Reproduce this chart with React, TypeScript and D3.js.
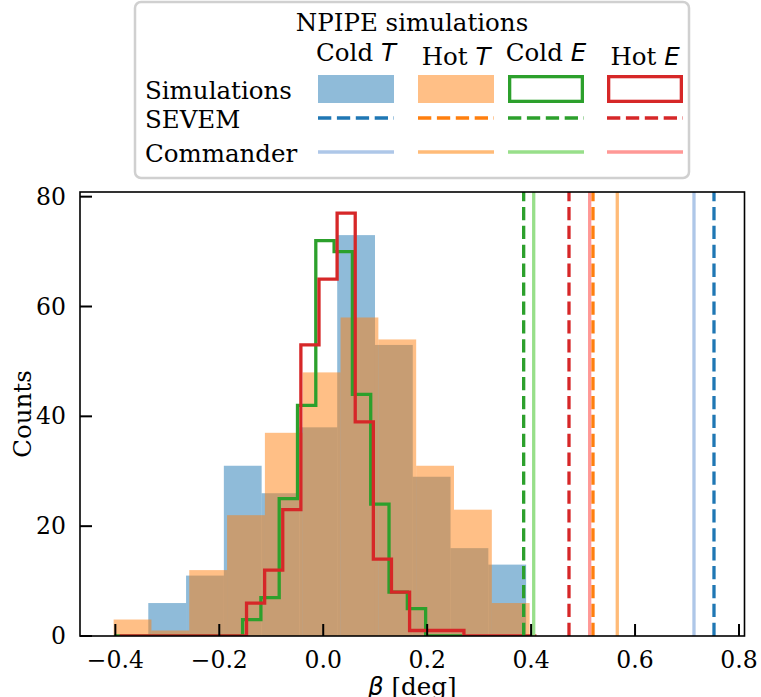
import React from "react";
import * as d3 from "d3";

// ---- data ----
const coldTStart = -0.3366;
const coldTWidth = 0.0727;
const coldTCounts = [6, 11, 31, 26, 38, 73, 53, 29, 16, 13];

const hotTStart = -0.4033;
const hotTWidth = 0.07277;
const hotTCounts = [3, 1, 12, 22, 37, 48, 58, 54, 31, 23, 6];

const coldEStart = -0.4017;
const coldEWidth = 0.03522;
const coldECounts = [0, 0, 0, 0, 0, 0, 0, 3, 7, 25, 42, 72, 70, 44, 24, 8, 5, 0, 0];

const hotEStart = -0.3916;
const hotEWidth = 0.03486;
const hotECounts = [0, 0, 0, 0, 0, 0, 0, 6, 12, 23, 53, 65, 77, 39, 14, 8, 1, 1, 1, 0, 0, 0, 0];

const columnWords = ["Cold", "Hot", "Cold", "Hot"];
const columnSymbols = ["T", "T", "E", "E"];
const rowLabels = ["Simulations", "SEVEM", "Commander"];
const sevemBeta = [0.7519, 0.5191, 0.3857, 0.4729];
const commanderBeta = [0.7134, 0.5658, 0.405, 0.5127];

const xTicks = [-0.4, -0.2, 0.0, 0.2, 0.4, 0.6, 0.8];
const yTicks = [0, 20, 40, 60, 80];

// ---- styles ----
const dark = ["#1f77b4", "#ff7f0e", "#2ca02c", "#d62728"];
const light = ["#aec7e8", "#ffbb78", "#98df8a", "#ff9896"];
const SERIF = "'DejaVu Serif', serif";
const MATH = "'DejaVu Sans', sans-serif";
const FS = 24.5;
const TFS = 23.5;

const W = 761;
const H = 697;
const M = { left: 80, right: 744.5, top: 192, bottom: 636 };
const LW = 3.3;
const DASH = "13.3 5.6";

function edges(start: number, width: number, n: number) {
  return d3.range(n + 1).map((i) => start + i * width);
}

export default function App() {
  const x = d3.scaleLinear().domain([-0.468, 0.8106]).range([M.left, M.right]);
  const y = d3.scaleLinear().domain([0, 80.85]).range([M.bottom, M.top]);
  const fmt = (v: number) => d3.format(".1f")(v).replace("-", "\u2212");

  const bars = (start: number, width: number, counts: number[], color: string, key: string) => {
    const e = edges(start, width, counts.length);
    return counts.map((c, i) => (
      <rect
        key={key + i}
        x={x(e[i])}
        y={y(c)}
        width={x(e[i + 1]) - x(e[i])}
        height={y(0) - y(c)}
        fill={color}
        fillOpacity={0.5}
      />
    ));
  };

  const stepPath = (start: number, width: number, counts: number[]) => {
    const e = edges(start, width, counts.length);
    const pts: [number, number][] = [[e[0], 0]];
    counts.forEach((c, i) => {
      pts.push([e[i], c]);
      pts.push([e[i + 1], c]);
    });
    pts.push([e[e.length - 1], 0]);
    return d3
      .line<[number, number]>()
      .x((d) => x(d[0]))
      .y((d) => y(d[1]))(pts) as string;
  };

  // legend geometry
  const colX = [318, 418, 508, 607];
  const handleW = 76;
  const rowY = [89, 118, 152];

  return (
    <svg
      width={W}
      height={H}
      style={{ position: "absolute", left: 0, top: 0, background: "#fff" }}
    >
      <defs>
        <clipPath id="plotclip">
          <rect x={M.left} y={M.top} width={M.right - M.left} height={M.bottom - M.top} />
        </clipPath>
      </defs>
      <rect x={0} y={0} width={W} height={H} fill="#fff" />

      <g clipPath="url(#plotclip)">
        {bars(coldTStart, coldTWidth, coldTCounts, dark[0], "ct")}
        {bars(hotTStart, hotTWidth, hotTCounts, dark[1], "ht")}
        <path d={stepPath(coldEStart, coldEWidth, coldECounts)} fill="none" stroke={dark[2]} strokeWidth={LW} strokeLinejoin="miter" />
        <path d={stepPath(hotEStart, hotEWidth, hotECounts)} fill="none" stroke={dark[3]} strokeWidth={LW} strokeLinejoin="miter" />
        {commanderBeta.map((b, i) => (
          <line key={"c" + i} x1={x(b)} x2={x(b)} y1={M.bottom} y2={M.top} stroke={light[i]} strokeWidth={LW} />
        ))}
        {sevemBeta.map((b, i) => (
          <line key={"s" + i} x1={x(b)} x2={x(b)} y1={M.bottom} y2={M.top} stroke={dark[i]} strokeWidth={LW} strokeDasharray={DASH} />
        ))}
      </g>

      {/* spines */}
      <rect x={M.left} y={M.top} width={M.right - M.left} height={M.bottom - M.top} fill="none" stroke="#000" strokeWidth={1.6} />

      {/* x ticks */}
      {xTicks.map((t) => (
        <g key={"xt" + t}>
          <line x1={x(t)} x2={x(t)} y1={M.bottom} y2={M.bottom - 12} stroke="#000" strokeWidth={2} />
          <text x={x(t)} y={M.bottom + 24} textAnchor="middle" dominantBaseline="central" fontFamily={SERIF} fontSize={TFS}>
            {fmt(t)}
          </text>
        </g>
      ))}
      {/* y ticks */}
      {yTicks.map((t) => (
        <g key={"yt" + t}>
          <line x1={M.left} x2={M.left + 12} y1={y(t)} y2={y(t)} stroke="#000" strokeWidth={2} />
          <text x={M.left - 14} y={y(t)} textAnchor="end" dominantBaseline="central" fontFamily={SERIF} fontSize={TFS}>
            {t}
          </text>
        </g>
      ))}

      {/* axis labels */}
      <text transform={`translate(22,${(M.top + M.bottom) / 2}) rotate(-90)`} textAnchor="middle" dominantBaseline="central" fontFamily={SERIF} fontSize={FS}>
        Counts
      </text>
      <text x={(M.left + M.right) / 2} y={686} textAnchor="middle" dominantBaseline="central" fontFamily={SERIF} fontSize={FS}>
        <tspan fontFamily={MATH} fontStyle="italic">β</tspan> [deg]
      </text>

      {/* legend */}
      <rect x={135} y={2} width={554} height={176} rx={6} fill="#fff" fillOpacity={0.8} stroke="#d0d0d0" strokeWidth={2.5} />
      <text x={412} y={22} textAnchor="middle" dominantBaseline="central" fontFamily={SERIF} fontSize={FS}>
        NPIPE simulations
      </text>
      {columnWords.map((w, i) => (
        <text key={"h" + i} x={colX[i] + handleW / 2} y={i % 2 === 0 ? 52 : 56} textAnchor="middle" dominantBaseline="central" fontFamily={SERIF} fontSize={FS}>
          {w + " "}
          <tspan fontFamily={MATH} fontStyle="italic">{columnSymbols[i]}</tspan>
        </text>
      ))}
      {rowLabels.map((r, i) => (
        <text key={"r" + i} x={145} y={rowY[i] + 1} dominantBaseline="central" fontFamily={SERIF} fontSize={FS}>
          {r}
        </text>
      ))}
      {[0, 1].map((i) => (
        <rect key={"lf" + i} x={colX[i]} y={75} width={handleW} height={28} fill={dark[i]} fillOpacity={0.5} />
      ))}
      {[2, 3].map((i) => (
        <rect key={"lo" + i} x={colX[i] + LW / 2} y={75 + LW / 2} width={handleW - LW} height={28 - LW} fill="none" stroke={dark[i]} strokeWidth={LW} />
      ))}
      {dark.map((c, i) => (
        <line key={"ld" + i} x1={colX[i]} x2={colX[i] + handleW} y1={rowY[1]} y2={rowY[1]} stroke={c} strokeWidth={LW} strokeDasharray={DASH} />
      ))}
      {light.map((c, i) => (
        <line key={"ll" + i} x1={colX[i]} x2={colX[i] + handleW} y1={rowY[2]} y2={rowY[2]} stroke={c} strokeWidth={LW} />
      ))}
    </svg>
  );
}
